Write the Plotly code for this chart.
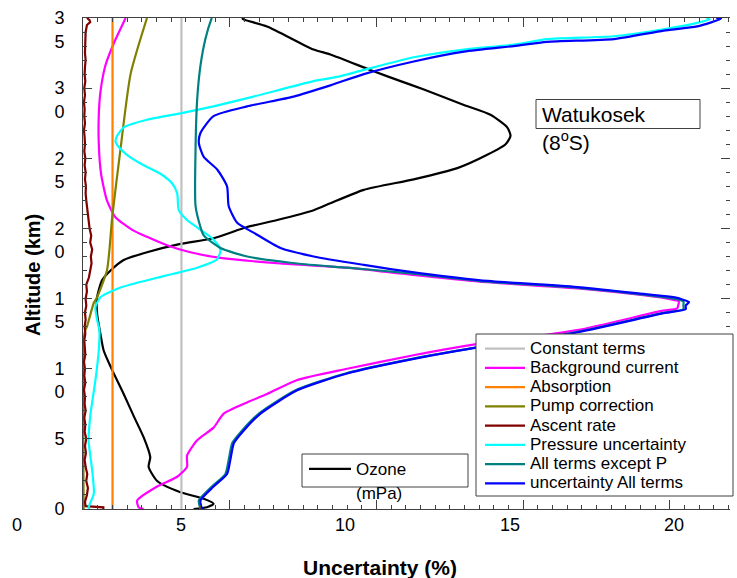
import plotly.graph_objects as go

FONT = "Liberation Sans, Arial, sans-serif"
AXIS_COLOR = "#404040"

# ---------------- profile data (altitude km, uncertainty %) ----------------
const_alt = [0.0, 35.0]
const_unc = [5.0, 5.0]

absorp_alt = [0.0, 35.0]
absorp_unc = [2.9, 2.9]

bg_alt = [35.0, 33.2, 31.6, 29.7, 28.0, 26.1, 23.9, 22.0, 20.8, 19.9, 19.4, 18.8,
          18.3, 17.9, 17.5, 17.2, 16.7, 16.2, 15.7, 15.2, 14.95, 14.8, 14.5, 14.3,
          14.1, 12.75, 11.75, 10.96, 10.0, 9.2, 8.2, 7.6, 6.8, 5.8, 4.9, 3.8, 3.0,
          2.3, 1.6, 0.6, 0.1, 0.0]
bg_unc = [3.30, 2.94, 2.68, 2.53, 2.48, 2.48, 2.55, 2.73, 2.99, 3.50, 3.95, 4.56,
          5.27, 6.19, 8.02, 10.05, 11.98, 14.10, 17.16, 19.20, 19.90, 20.16, 20.14, 20.11,
          19.60, 17.07, 13.99, 12.07, 10.05, 8.53, 7.61, 7.00, 6.29, 5.98, 5.48, 5.17, 5.17,
          4.87, 4.26, 3.65, 3.70, 3.85]

pump_alt = [35.0, 31.0, 25.6, 20.8, 18.6, 17.0, 15.1, 14.7, 13.0, 12.75, 12.0, 0.0]
pump_unc = [3.95, 3.45, 3.14, 2.89, 2.81, 2.73, 2.43, 2.33, 2.12, 2.07, 2.02, 2.02]

ascent_alt = [0.0, 0.12, 0.2, 0.5, 1.0, 1.5, 2.0, 2.5, 3.0, 3.5, 4.0, 4.5, 5.0, 5.5,
              6.0, 6.5, 7.0, 7.5, 8.0, 8.5, 9.0, 9.5, 10.0, 10.5, 11.0, 11.5, 12.0,
              12.5, 13.0, 13.5, 14.0, 14.5, 15.0, 15.5, 16.0, 16.5, 17.0, 17.5, 18.0,
              18.5, 19.0, 19.5, 20.0, 20.5, 21.0, 21.5, 22.0, 22.5, 23.0, 23.5, 24.0,
              24.5, 25.0, 25.5, 26.0, 26.5, 27.0, 27.5, 28.0, 28.5, 29.0, 29.5, 30.0,
              30.5, 31.0, 31.5, 32.0, 32.5, 33.0, 33.5, 34.0, 34.5, 34.7, 34.85, 35.0]
ascent_unc = [2.62, 2.62, 2.08, 2.06, 2.12, 2.15, 2.10, 2.13, 2.08, 2.05, 2.09, 2.06,
              2.10, 2.05, 2.07, 2.04, 2.08, 2.05, 2.06, 2.03, 2.07, 2.04, 2.06, 2.03,
              2.07, 2.05, 2.04, 2.07, 2.05, 2.08, 2.06, 2.10, 2.08, 2.12, 2.10, 2.18,
              2.22, 2.26, 2.24, 2.28, 2.22, 2.25, 2.20, 2.17, 2.15, 2.12, 2.10, 2.08,
              2.09, 2.06, 2.08, 2.05, 2.07, 2.04, 2.06, 2.05, 2.03, 2.06, 2.04, 2.05,
              2.03, 2.06, 2.04, 2.07, 2.05, 2.06, 2.08, 2.06, 2.07, 2.09, 2.08, 2.12,
              2.22, 2.20, 2.12]

press_alt = [35.0, 34.9, 34.65, 34.2, 33.7, 33.5, 33.1, 32.75, 32.2, 31.3, 30.8, 30.5,
             29.4, 28.7, 28.2, 27.75, 27.2, 26.6, 26.2, 25.8, 25.25, 24.5, 23.9, 23.2,
             22.5, 21.3, 20.6, 19.9, 19.2, 18.5, 17.8, 17.2, 16.6, 16.0, 15.6, 15.1,
             14.4, 13.5, 12.75, 11.3, 9.2, 6.8, 4.9, 2.75, 1.1, 0.1, 0.0]
press_unc = [21.0, 21.1, 20.72, 19.70, 18.18, 16.15, 15.13, 13.61, 12.08, 10.56, 9.75, 9.03,
             7.20, 5.98, 4.97, 3.95, 3.24, 3.04, 2.99, 3.09, 3.34, 3.85, 4.36, 4.72,
             4.87, 4.92, 5.17, 5.58, 5.98, 6.19, 6.09, 5.48, 4.46, 3.45, 2.94, 2.53,
             2.38, 2.43, 2.50, 2.48, 2.38, 2.23, 2.17, 2.28, 2.33, 2.17, 2.20]

noP_alt = [35.0, 34.9, 33.5, 31.6, 29.2, 25.6, 21.6, 20.1, 19.5, 18.6, 18.0, 17.5,
           17.2, 16.8, 16.25, 15.75, 15.25, 15.0, 14.8, 14.5, 14.25, 13.96, 12.6, 11.5,
           10.7, 9.66, 8.46, 6.8, 5.6, 4.7, 3.5, 2.5, 1.6, 0.6, 0.0]
noP_unc = [5.93, 5.91, 5.73, 5.58, 5.48, 5.43, 5.43, 5.58, 5.68, 6.19, 7.00, 8.53,
           10.05, 11.98, 14.10, 17.16, 19.20, 20.00, 20.30, 20.30, 20.30, 19.65, 17.00, 13.95,
           12.03, 10.00, 8.48, 7.36, 6.85, 6.55, 6.44, 6.34, 5.93, 5.53, 5.58]

all_alt = [35.0, 34.95, 34.4, 34.1, 33.5, 33.3, 33.0, 32.6, 31.9, 31.0, 30.2, 29.4,
           28.7, 28.0, 26.8, 26.1, 25.1, 24.2, 23.0, 21.6, 20.4, 19.7, 18.6, 18.0,
           17.4, 16.9, 16.3, 15.8, 15.3, 15.1, 14.9, 14.75, 14.5, 14.25, 13.96, 12.6,
           11.5, 10.7, 9.66, 8.46, 6.8, 5.6, 4.7, 3.5, 2.5, 1.6, 0.6, 0.0]
all_unc = [21.30, 21.45, 20.72, 19.70, 18.18, 16.15, 15.13, 13.61, 12.08, 10.56, 9.54, 8.42,
           7.00, 5.98, 5.58, 5.53, 5.68, 6.09, 6.39, 6.44, 6.70, 7.20, 8.02, 9.03,
           10.56, 11.98, 14.12, 17.16, 19.20, 20.00, 20.31, 20.47, 20.37, 20.37, 19.70, 17.07,
           13.99, 12.08, 10.05, 8.53, 7.41, 6.90, 6.60, 6.49, 6.39, 5.98, 5.58, 5.63]

ozone_alt = [35.0, 34.9, 34.4, 32.75, 32.4, 31.2, 30.5, 29.9, 28.8, 28.1, 27.2, 26.6,
             26.0, 25.25, 24.3, 23.5, 22.75, 21.8, 21.3, 20.6, 20.1, 19.3, 18.9, 18.3,
             17.75, 17.0, 16.3, 15.1, 13.9, 12.5, 11.3, 9.9, 8.2, 6.6, 5.1, 3.7,
             3.0, 2.0, 1.2, 0.73, 0.37, 0.13, 0.0]
ozone_val = [6.85, 6.89, 7.61, 9.03, 9.54, 10.86, 11.68, 12.39, 13.61, 14.42, 14.93, 15.03,
             14.88, 14.32, 13.41, 12.08, 10.56, 9.54, 9.03, 7.92, 7.00, 5.98, 4.97, 3.95,
             3.24, 2.84, 2.58, 2.43, 2.43, 2.53, 2.63, 2.89, 3.24, 3.55, 3.85, 4.05,
             4.00, 4.26, 4.97, 5.68, 5.98, 5.78, 5.37]

series_names = ["Constant terms", "Background current", "Absorption", "Pump correction",
                "Ascent rate", "Pressure uncertainty", "All terms except P",
                "uncertainty All terms"]
series_colors = ["#c0c0c0", "#ff00ff", "#ff8000", "#808000", "#800000", "#00ffff",
                 "#008080", "#0000ff"]
series_x = [const_unc, bg_unc, absorp_unc, pump_unc, ascent_unc, press_unc, noP_unc, all_unc]
series_y = [const_alt, bg_alt, absorp_alt, pump_alt, ascent_alt, press_alt, noP_alt, all_alt]
# measured profiles are drawn as smooth curves; flat terms and the noisy ascent term as-is
series_smooth = [False, True, False, True, False, True, True, True]

x_tick_vals = [5, 10, 15, 20]
x_tick_text = ["5", "10", "15", "20"]
y_tick_vals = [0, 5, 10, 15, 20, 25, 30, 35]
# two-digit altitude labels are stacked one digit per line, first digit level with the tick
y_tick_text = ["0", "5", "<br>1<br>0", "<br>1<br>5", "<br>2<br>0", "<br>2<br>5",
               "<br>3<br>0", "<br>3<br>5"]


def line_style(color, smooth):
    if smooth:
        return dict(color=color, width=2.2, shape="spline", smoothing=0.6)
    return dict(color=color, width=2.2)


fig = go.Figure()

fig.add_trace(go.Scatter(
    x=ozone_val, y=ozone_alt, mode="lines", name="Ozone",
    line=line_style("#000000", True), legend="legend2"))

for name, color, xs, ys, smooth in zip(series_names, series_colors, series_x,
                                       series_y, series_smooth):
    fig.add_trace(go.Scatter(
        x=xs, y=ys, mode="lines",
        name=f'<span style="font-size:17px">{name}</span>',
        line=line_style(color, smooth)))

# empty traces so the extra frame axes (top, right, long ticks) are instantiated
for xa, ya in [("x", "y2"), ("x2", "y"), ("x3", "y"), ("x4", "y")]:
    fig.add_trace(go.Scatter(x=[], y=[], xaxis=xa, yaxis=ya, showlegend=False,
                             hoverinfo="skip"))

W, H = 737, 578
L, R, T, B = 83, 7, 18, 69
PW, PH = W - L - R, H - T - B
X_RANGE = [2.0, 21.72]
FRAME_STEP_PX = 14.67          # spacing of the small frame ticks along x
FRAME_STEP = FRAME_STEP_PX * (X_RANGE[1] - X_RANGE[0]) / PW
n_frame = int(PW / FRAME_STEP_PX) + 1
frame_small = [X_RANGE[0] + k * FRAME_STEP for k in range(n_frame)]
frame_long = frame_small[::10]


def px_x(p):
    return (p - L) / PW


def px_y(p):
    return (H - B - p) / PH


def x_frame(vals, length, **extra):
    return dict(range=X_RANGE, tickmode="array", tickvals=vals, ticks="inside",
                ticklen=length, tickcolor=AXIS_COLOR, tickwidth=1,
                showticklabels=False, showline=True, linecolor=AXIS_COLOR, linewidth=1,
                showgrid=False, zeroline=False, **extra)


y_frame = dict(range=[0, 35], tickvals=y_tick_vals, ticks="inside", ticklen=9,
               tickcolor=AXIS_COLOR, showgrid=False, zeroline=False,
               minor=dict(dtick=1, ticks="inside", ticklen=4, tickcolor=AXIS_COLOR))

fig.update_layout(
    width=W, height=H,
    margin=dict(l=L, r=R, t=T, b=B),
    paper_bgcolor="white", plot_bgcolor="white",
    font=dict(family=FONT, color="#000000"),
    xaxis=x_frame(frame_small, 4),
    xaxis2=x_frame(frame_small, 4, overlaying="x", anchor="y", side="top"),
    xaxis3=x_frame(frame_long, 9, overlaying="x", anchor="y", side="bottom"),
    xaxis4=x_frame(frame_long, 9, overlaying="x", anchor="y", side="top"),
    yaxis=dict(**y_frame, ticktext=y_tick_text, showline=True, linecolor=AXIS_COLOR,
               linewidth=1, tickfont=dict(size=18, family=FONT), ticklabelstandoff=14,
               ticklabeloverflow="allow"),
    yaxis2=dict(**y_frame, overlaying="y", anchor="x", side="right",
                showticklabels=False, showline=False),
    legend=dict(x=px_x(480), y=px_y(334), xanchor="left", yanchor="top",
                bgcolor="rgba(0,0,0,0)", borderwidth=0, itemwidth=40,
                font=dict(size=12.5, family=FONT), tracegroupgap=0),
    legend2=dict(x=px_x(304), y=px_y(469.3), xanchor="left", yanchor="middle",
                 bgcolor="rgba(0,0,0,0)", borderwidth=0, itemwidth=42,
                 font=dict(size=17, family=FONT)),
    showlegend=True,
)

box_line = dict(color=AXIS_COLOR, width=1)
fig.add_shape(type="rect", xref="paper", yref="paper", layer="above",
              x0=px_x(476), x1=px_x(733), y0=px_y(496), y1=px_y(334),
              line=box_line, fillcolor="white")
fig.add_shape(type="rect", xref="paper", yref="paper", layer="above",
              x0=px_x(302), x1=px_x(468), y0=px_y(487), y1=px_y(454),
              line=box_line, fillcolor="white")
fig.add_shape(type="rect", xref="paper", yref="paper", layer="above",
              x0=px_x(536), x1=px_x(700), y0=px_y(128.5), y1=px_y(99.5),
              line=box_line, fillcolor="rgba(0,0,0,0)")

# x tick labels, placed at their data values under the frame
for val, txt in zip(x_tick_vals, x_tick_text):
    fig.add_annotation(text=txt, xref="x", x=val, yref="paper", y=px_y(525),
                       xanchor="center", yanchor="middle", showarrow=False,
                       font=dict(size=18, family=FONT))

ann = dict(xref="paper", yref="paper", showarrow=False)
fig.add_annotation(text="Watukosek", x=px_x(540), y=px_y(114), xanchor="left",
                   yanchor="middle", font=dict(size=21, family=FONT), **ann)
fig.add_annotation(text="(8<sup>o</sup>S)", x=px_x(540), y=px_y(141), xanchor="left",
                   yanchor="middle", font=dict(size=21, family=FONT), **ann)
fig.add_annotation(text="(mPa)", x=px_x(354), y=px_y(493), xanchor="left",
                   yanchor="middle", font=dict(size=17, family=FONT), **ann)
fig.add_annotation(text="0", x=px_x(17), y=px_y(525), xanchor="center",
                   yanchor="middle", font=dict(size=18, family=FONT), **ann)
fig.add_annotation(text="<b>Uncertainty (%)</b>", x=px_x(380), y=px_y(567),
                   xanchor="center", yanchor="middle", font=dict(size=21, family=FONT), **ann)
fig.add_annotation(text="<b>Altitude (km)</b>", x=px_x(33), y=px_y(275), textangle=-90,
                   xanchor="center", yanchor="middle", font=dict(size=20, family=FONT), **ann)

fig.write_html("out.html")
